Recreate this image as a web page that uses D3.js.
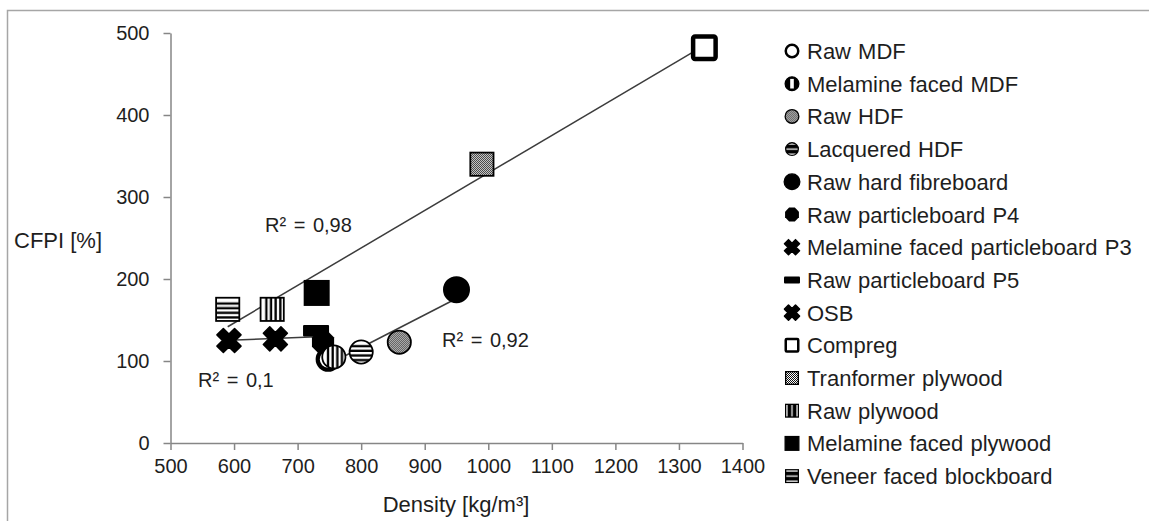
<html>
  <head>
    <meta charset="utf-8">
    <title>CFPI vs density</title>
    <script src="https://cdnjs.cloudflare.com/ajax/libs/d3/7.8.5/d3.min.js"></script>
    <style>
      body { margin: 0; background: white; }
      text { font-family: "Liberation Sans", Arial, sans-serif; fill: #1e1e1e; }
    </style>
  </head>
  <body>
    <script>
      // board types, in legend order
      var names = ["Raw MDF", "Melamine  faced MDF", "Raw HDF", "Lacquered HDF", "Raw hard fibreboard",
        "Raw particleboard P4", "Melamine faced particleboard P3", "Raw particleboard P5", "OSB",
        "Compreg", "Tranformer plywood", "Raw plywood", "Melamine faced plywood", "Veneer faced blockboard"];
      var density = [748, 757, 860, 800, 950, 740, 665, 729, 592, 1340, 990, 660, 730, 590];
      var cfpi = [102, 105, 123, 111, 187, 123, 127, 137, 125, 482, 340, 163, 183, 163];
      // which points each trend line is fitted on
      var trendGroups = [[0, 1, 2, 3, 4], [5, 6, 7, 8], [9, 10, 11, 12, 13]];
      var r2Labels = ["R² = 0,92", "R² = 0,1", "R² = 0,98"];
      var xTicks = [500, 600, 700, 800, 900, 1000, 1100, 1200, 1300, 1400];
      var yTicks = [0, 100, 200, 300, 400, 500];

      // marker look per series
      var markers = ["ring", "circleV", "circleDot", "circleH", "circleFill", "oct", "x", "dash", "x",
        "squareOpen", "squareDot", "squareV", "squareFill", "squareH"];

      var width = 1149, height = 521;
      var svg = d3.select("body").append("svg")
        .attr("width", width)
        .attr("height", height);

      // fill patterns
      var defs = svg.append("defs");
      var dot = defs.append("pattern").attr("id", "dots")
        .attr("patternUnits", "userSpaceOnUse").attr("width", 2).attr("height", 2);
      dot.append("rect").attr("width", 2).attr("height", 2).attr("fill", "white");
      dot.append("rect").attr("width", 1).attr("height", 1).attr("fill", "#111");
      dot.append("rect").attr("x", 1).attr("y", 1).attr("width", 1).attr("height", 1).attr("fill", "#111");

      function stripes(id, vertical, at, thick) {
        var p = defs.append("pattern").attr("id", id)
          .attr("patternUnits", "objectBoundingBox")
          .attr("patternContentUnits", "objectBoundingBox")
          .attr("width", 1).attr("height", 1);
        p.append("rect").attr("width", 1).attr("height", 1).attr("fill", "white");
        at.forEach(function(v) {
          if (vertical) p.append("rect").attr("x", v - thick / 2).attr("y", 0).attr("width", thick).attr("height", 1).attr("fill", "#000");
          else p.append("rect").attr("x", 0).attr("y", v - thick / 2).attr("width", 1).attr("height", thick).attr("fill", "#000");
        });
      }
      stripes("vstripe", true, [0.25, 0.45, 0.65, 0.85], 0.1);
      stripes("hstripe", false, [0.25, 0.45, 0.65, 0.85], 0.1);
      // coarser versions for the small legend keys
      stripes("vstripeS", true, [0.3, 0.7], 0.3);
      stripes("hstripeS", false, [0.3, 0.7], 0.3);

      // outer frame (runs past the right and bottom edges)
      svg.append("rect")
        .attr("x", 7.5).attr("y", 10.5)
        .attr("width", 1300).attr("height", 700)
        .attr("fill", "none")
        .attr("stroke", "#a6a6a6")
        .attr("stroke-width", 1.5);

      var xScale = d3.scaleLinear().domain([500, 1400]).range([170.5, 742.5]);
      var yScale = d3.scaleLinear().domain([0, 500]).range([443, 33]);

      svg.append("g")
        .attr("transform", "translate(0,443)")
        .call(d3.axisBottom(xScale).tickValues(xTicks).tickFormat(d3.format("d"))
          .tickSize(7).tickPadding(9).tickSizeOuter(0));
      svg.append("g")
        .attr("transform", "translate(170.5,0)")
        .call(d3.axisLeft(yScale).tickValues(yTicks).tickSize(7).tickPadding(14).tickSizeOuter(0));

      svg.selectAll(".domain, .tick line").attr("stroke", "#868686").attr("stroke-width", 1.5);
      svg.selectAll(".tick text")
        .attr("fill", "#1e1e1e")
        .style("font-family", "'Liberation Sans', Arial, sans-serif")
        .style("font-size", "20px");

      // trend lines (least squares)
      trendGroups.forEach(function(g) {
        var xs = g.map(function(i) { return density[i]; });
        var ys = g.map(function(i) { return cfpi[i]; });
        var mx = d3.mean(xs), my = d3.mean(ys);
        var sxy = d3.sum(xs, function(v, k) { return (v - mx) * (ys[k] - my); });
        var sxx = d3.sum(xs, function(v) { return (v - mx) * (v - mx); });
        var b = sxy / sxx, a = my - b * mx;
        var x0 = d3.min(xs), x1 = d3.max(xs);
        svg.append("line")
          .attr("x1", xScale(x0)).attr("y1", yScale(a + b * x0))
          .attr("x2", xScale(x1)).attr("y2", yScale(a + b * x1))
          .attr("stroke", "#3c3c3c")
          .attr("stroke-width", 1.5);
      });

      function xPath(s) {
        var h = s * 0.52, w = s * 0.19;
        var pts = [[-w,-h],[w,-h],[w,-w],[h,-w],[h,w],[w,w],[w,h],[-w,h],[-w,w],[-h,w],[-h,-w],[-w,-w]];
        return "M" + pts.map(function(p) {
          return [(p[0] - p[1]) / Math.SQRT2, (p[0] + p[1]) / Math.SQRT2].join(",");
        }).join("L") + "Z";
      }
      function octPath(r) {
        var pts = d3.range(8).map(function(k) {
          var a = Math.PI / 8 + k * Math.PI / 4;
          return [r * Math.cos(a), r * Math.sin(a)].join(",");
        });
        return "M" + pts.join("L") + "Z";
      }

      // draws one marker centred at 0,0 inside g, s = outer size
      function drawMarker(g, type, s, small) {
        var sw = Math.max(1.3, s / 14);
        var suf = small ? "S" : "";
        if (type.indexOf("circle") === 0 || type === "ring") {
          var c = g.append("circle").attr("r", s / 2 - sw / 2).attr("stroke", "#000").attr("stroke-width", sw);
          if (type === "ring") c.attr("fill", "white").attr("stroke-width", s / 6).attr("r", s / 2 - s / 12);
          if (type === "circleV") c.attr("fill", small ? "#000" : "url(#vstripe)");
          if (type === "circleH") c.attr("fill", "url(#hstripe" + suf + ")");
          if (type === "circleDot") c.attr("fill", "url(#dots)");
          if (type === "circleFill") c.attr("fill", "#000");
          if (type === "circleV" && small) {
            g.append("rect").attr("x", -s * 0.12).attr("y", -s * 0.32)
              .attr("width", s * 0.24).attr("height", s * 0.64).attr("fill", "white");
          }
        } else if (type.indexOf("square") === 0) {
          var r = g.append("rect")
            .attr("x", -s / 2 + sw / 2).attr("y", -s / 2 + sw / 2)
            .attr("width", s - sw).attr("height", s - sw)
            .attr("stroke", "#000").attr("stroke-width", sw);
          if (type === "squareOpen") r.attr("fill", "white").attr("stroke-width", s / 6)
            .attr("x", -s / 2 + s / 12).attr("y", -s / 2 + s / 12)
            .attr("width", s - s / 6).attr("height", s - s / 6).attr("rx", s / 14);
          if (type === "squareV") r.attr("fill", "url(#vstripe" + suf + ")");
          if (type === "squareH") r.attr("fill", "url(#hstripe" + suf + ")");
          if (type === "squareDot") r.attr("fill", "url(#dots)");
          if (type === "squareFill") r.attr("fill", "#000");
        } else if (type === "x") {
          g.append("path").attr("d", xPath(s)).attr("fill", "#000").attr("stroke", "#000")
            .attr("stroke-width", 1.5).attr("stroke-linejoin", "round");
        } else if (type === "oct") {
          g.append("path").attr("d", octPath(s / 2)).attr("fill", "#000");
        } else if (type === "dash") {
          g.append("rect").attr("x", -s / 2).attr("y", -s * 0.22)
            .attr("width", s).attr("height", s * 0.44).attr("rx", 1).attr("fill", "#000");
        }
      }

      var plotSize = [25, 25, 25, 25, 27, 24, 24, 26, 24, 27, 25, 25, 26, 25];
      var order = [5, 7, 0, 1, 2, 3, 4, 6, 8, 9, 10, 11, 12, 13];
      order.forEach(function(i) {
        var g = svg.append("g")
          .attr("transform", "translate(" + xScale(density[i]) + "," + yScale(cfpi[i]) + ")");
        drawMarker(g, markers[i], plotSize[i], false);
      });

      // R² labels
      var r2Pos = [[442, 347], [198, 387], [265, 232]];
      r2Labels.forEach(function(t, k) {
        svg.append("text")
          .attr("x", r2Pos[k][0]).attr("y", r2Pos[k][1])
          .style("font-size", "20px")
          .style("word-spacing", "2px")
          .text(t);
      });

      // axis titles
      svg.append("text")
        .attr("x", 14).attr("y", 248)
        .style("font-size", "22px")
        .text("CFPI [%]");
      svg.append("text")
        .attr("x", 456).attr("y", 512)
        .attr("text-anchor", "middle")
        .style("font-size", "22px")
        .text("Density [kg/m³]");

      // legend
      var legendSize = [15, 15, 15, 14, 17, 15, 15, 16, 15, 15, 14, 14, 15, 14];
      var legend = svg.append("g").attr("transform", "translate(792,51)");
      names.forEach(function(n, i) {
        var row = legend.append("g").attr("transform", "translate(0," + (i * 32.7) + ")");
        drawMarker(row.append("g"), markers[i], legendSize[i], true);
        row.append("text")
          .attr("x", 15).attr("y", 8)
          .style("font-size", "22px")
          .style("word-spacing", "1px")
          .text(n);
      });
    </script>
  </body>
</html>
